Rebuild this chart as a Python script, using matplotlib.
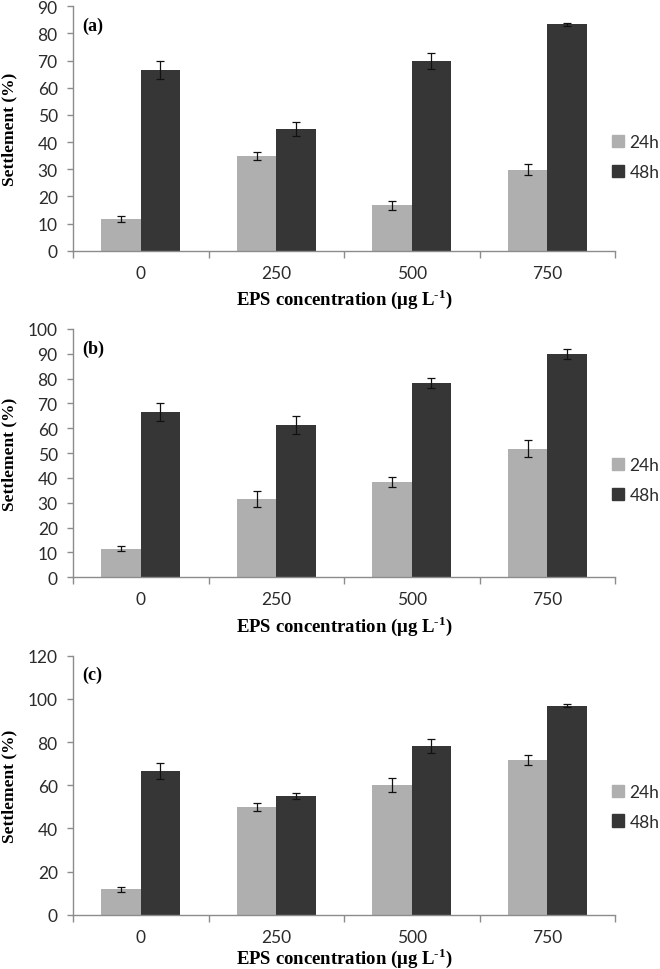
import numpy as np
import matplotlib
matplotlib.use("Agg")
import matplotlib.pyplot as plt
from matplotlib.patches import Patch

plt.rcParams['mathtext.fontset'] = 'custom'
plt.rcParams['mathtext.rm'] = 'Liberation Serif:bold'
plt.rcParams['mathtext.bf'] = 'Liberation Serif:bold'

# data
categories = ['0', '250', '500', '750']
series = ['24h', '48h']

a_24 = [11.7, 34.8, 16.7, 29.9]
a_24_err = [1.1, 1.5, 1.7, 2.2]
a_48 = [66.6, 44.9, 69.9, 83.3]
a_48_err = [3.4, 2.5, 3.0, 0.5]

b_24 = [11.5, 31.5, 38.4, 51.7]
b_24_err = [1.1, 3.2, 1.9, 3.4]
b_48 = [66.4, 61.5, 78.2, 89.9]
b_48_err = [3.6, 3.6, 2.1, 2.0]

c_24 = [11.7, 49.9, 60.1, 71.7]
c_24_err = [1.1, 1.9, 3.4, 2.3]
c_48 = [66.7, 55.0, 78.3, 96.8]
c_48_err = [3.6, 1.5, 3.2, 0.7]

panels = [
    ('(a)', a_24, a_24_err, a_48, a_48_err, 90, 10),
    ('(b)', b_24, b_24_err, b_48, b_48_err, 100, 10),
    ('(c)', c_24, c_24_err, c_48, c_48_err, 120, 20),
]

W, H = 660, 970
# pixel extents of each plot area: (top, bottom), and xlabel padding
boxes = [(7.3, 251.7, 4), (330.0, 578.3, 4), (656.7, 915.7, 0.5)]
left_px, right_px = 73, 615

light = '#afafaf'
dark = '#363636'
axcol = '#8c8c8c'
tickfont = 'Lato'

fig = plt.figure(figsize=(6.6, 9.7), dpi=100)

x = np.arange(len(categories))
bw = 0.29

for (tag, s24, e24, s48, e48, ymax, step), (top, bot, lpad) in zip(panels, boxes):
    ax = fig.add_axes([left_px / W, 1 - bot / H, (right_px - left_px) / W, (bot - top) / H])
    ax.bar(x - bw / 2, s24, bw, color=light, zorder=2)
    ax.bar(x + bw / 2, s48, bw, color=dark, zorder=2)
    ax.errorbar(x - bw / 2, s24, yerr=e24, fmt='none', ecolor='#111111',
                elinewidth=0.9, capsize=3, capthick=0.9, zorder=3)
    ax.errorbar(x + bw / 2, s48, yerr=e48, fmt='none', ecolor='#111111',
                elinewidth=0.9, capsize=3, capthick=0.9, zorder=3)

    ax.set_xlim(-0.5, len(categories) - 0.5)
    ax.set_ylim(0, ymax)
    ax.set_yticks(np.arange(0, ymax + 1, step))
    ax.set_xticks(x)
    ax.set_xticklabels(categories)
    ax.set_xticks(np.arange(-0.5, len(categories)), minor=True)

    for sp in ['top', 'right']:
        ax.spines[sp].set_visible(False)
    for sp in ['left', 'bottom']:
        ax.spines[sp].set_color(axcol)
        ax.spines[sp].set_linewidth(1.0)

    ax.tick_params(axis='y', which='major', direction='out', length=4, width=1.0,
                   color=axcol, labelsize=12.5, labelcolor='#2b2b2b', pad=7)
    ax.tick_params(axis='x', which='major', length=0, labelsize=12.5,
                   labelcolor='#2b2b2b', pad=10)
    ax.tick_params(axis='x', which='minor', direction='out', length=5, width=1.0,
                   color=axcol)
    for lab in ax.get_xticklabels() + ax.get_yticklabels():
        lab.set_fontfamily(tickfont)

    ax.set_ylabel('Settlement (%)', family='Liberation Serif', fontweight='bold',
                  fontsize=12.5)
    ax.yaxis.set_label_coords(-(left_px - 17) / (right_px - left_px), 0.5)
    ax.set_xlabel(r'EPS concentration (μg L$^{\text{-1}}$)', family='Liberation Serif',
                  fontweight='bold', fontsize=13.5, labelpad=lpad)

    ax.text(82 / W, 1 - (top + 19) / H, tag, transform=fig.transFigure,
            family='Liberation Serif', fontweight='bold', fontsize=13,
            va='center', ha='left')

    handles = [Patch(color=light), Patch(color=dark)]
    leg_y = 1 - (top + 151) / H
    leg = fig.legend(handles, series, loc='center left',
                     bbox_to_anchor=(612 / W, leg_y), frameon=False,
                     prop={'family': tickfont, 'size': 12.5},
                     handlelength=0.7, handleheight=0.7, handletextpad=0.3,
                     labelspacing=0.8, borderaxespad=0, borderpad=0)
    for t in leg.get_texts():
        t.set_color('#2b2b2b')

fig.savefig('out.png', dpi=100)
